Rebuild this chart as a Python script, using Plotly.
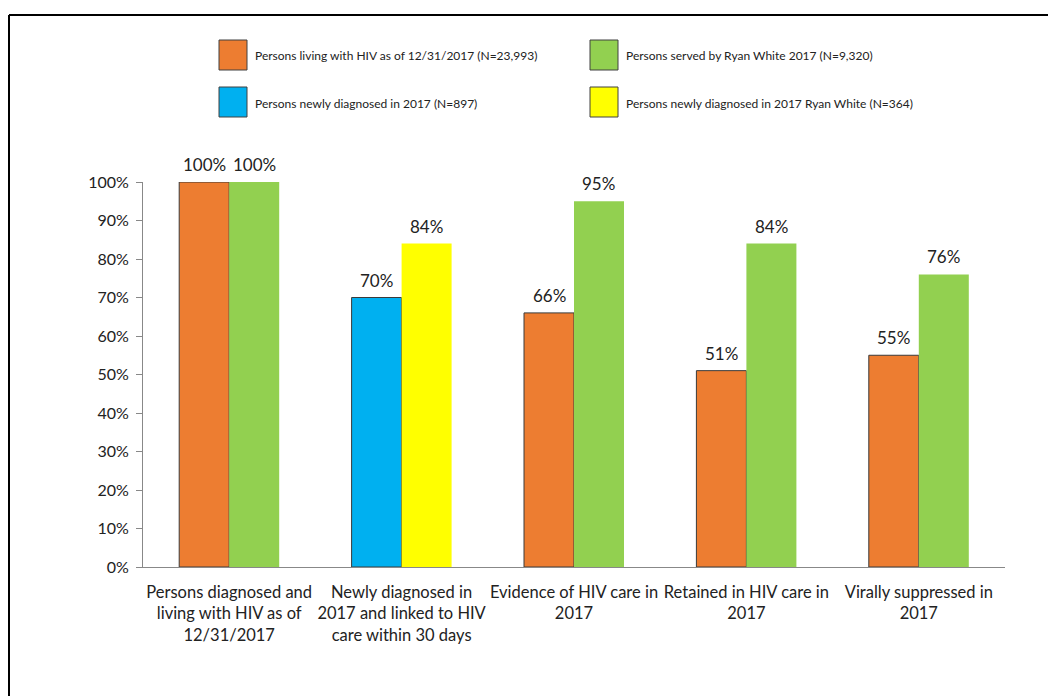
import plotly.graph_objects as go

categories = [
    "Persons diagnosed and<br>living with HIV as of<br>12/31/2017",
    "Newly diagnosed in<br>2017 and linked to HIV<br>care within 30 days",
    "Evidence of HIV care in<br>2017",
    "Retained in HIV care in<br>2017",
    "Virally suppressed in<br>2017",
]
first_values = [100, 70, 66, 51, 55]
second_values = [100, 84, 95, 84, 76]
first_labels = ["100%", "70%", "66%", "51%", "55%"]
second_labels = ["100%", "84%", "95%", "84%", "76%"]
first_colors = ["#ED7D31", "#00B0F0", "#ED7D31", "#ED7D31", "#ED7D31"]
second_colors = ["#92D050", "#FFFF00", "#92D050", "#92D050", "#92D050"]
tick_vals = [0, 10, 20, 30, 40, 50, 60, 70, 80, 90, 100]
tick_text = ["0%", "10%", "20%", "30%", "40%", "50%", "60%", "70%", "80%", "90%", "100%"]

legend_items = [
    ("Persons living with HIV as of 12/31/2017 (N=23,993)", "#ED7D31", 219, 40),
    ("Persons served by Ryan White 2017 (N=9,320)", "#92D050", 590, 40),
    ("Persons newly diagnosed in 2017 (N=897)", "#00B0F0", 219, 87),
    ("Persons newly diagnosed in 2017 Ryan White (N=364)", "#FFFF00", 590, 87),
]

# the page body adds an 8px offset; positions below are given in window pixels
OFF = 8
W, H = 1048, 688
L, R, T, B = 143 - OFF, 51, 182 - OFF, 129
PW, PH = W - L - R, H - T - B
BARGAP = 0.42

def px(x):
    return (x - OFF - L) / PW

def py(y):
    return (H - B - (y - OFF)) / PH

FONT = "Lato, Carlito, Calibri, Arial, sans-serif"

fig = go.Figure()
fig.add_trace(go.Bar(
    x=categories, y=first_values,
    marker=dict(color=first_colors, line=dict(color="#3a3a3a", width=1)),
    showlegend=False,
))
fig.add_trace(go.Bar(
    x=categories, y=second_values,
    marker=dict(color=second_colors, line=dict(width=0)),
    showlegend=False,
))

shapes = []
annotations = []

# value labels placed on the data scale above each bar
half_bar = PW / len(categories) * (1 - BARGAP) / 4
for cat, v1, t1, v2, t2 in zip(categories, first_values, first_labels, second_values, second_labels):
    for v, t, sx in ((v1, t1, -half_bar), (v2, t2, half_bar)):
        annotations.append(dict(x=cat, y=v, xref="x", yref="y", text=t, showarrow=False,
                                xanchor="center", yanchor="bottom", xshift=sx, yshift=5,
                                font=dict(size=17, color="#222", family=FONT)))

for label, color, x0, y0 in legend_items:
    shapes.append(dict(type="rect", xref="paper", yref="paper",
                       x0=px(x0), x1=px(x0 + 28), y0=py(y0), y1=py(y0 + 30),
                       fillcolor=color, line=dict(color="#404040", width=1)))
    annotations.append(dict(xref="paper", yref="paper", x=px(x0 + 34), y=py(y0 + 16),
                            text=label, showarrow=False, xanchor="left", yanchor="middle",
                            font=dict(size=12, color="#222", family=FONT)))

# outer frame (top and left edges visible)
shapes.append(dict(type="line", xref="paper", yref="paper",
                   x0=px(9), x1=px(1070), y0=py(15), y1=py(15), line=dict(color="black", width=2)))
shapes.append(dict(type="line", xref="paper", yref="paper",
                   x0=px(9), x1=px(9), y0=py(15), y1=py(710), line=dict(color="black", width=2)))

fig.update_layout(
    width=W, height=H, margin=dict(l=L, r=R, t=T, b=B, pad=0, autoexpand=False),
    barmode="group", bargap=BARGAP, bargroupgap=0,
    plot_bgcolor="white", paper_bgcolor="white",
    font=dict(family=FONT, color="#222"),
    shapes=shapes, annotations=annotations,
    xaxis=dict(showline=True, linecolor="#888", linewidth=1, ticks="",
               tickfont=dict(size=16.5, color="#222"), showgrid=False,
               ticklabelstandoff=10, tickangle=0, automargin=False),
    yaxis=dict(range=[0, 100], tickvals=tick_vals, ticktext=tick_text, showgrid=False,
               showline=True, linecolor="#888", linewidth=1, ticks="outside", ticklen=6,
               tickcolor="#888", tickfont=dict(size=16, color="#222"), zeroline=False,
               ticklabelstandoff=4, automargin=False),
)

fig.write_html("out.html")
